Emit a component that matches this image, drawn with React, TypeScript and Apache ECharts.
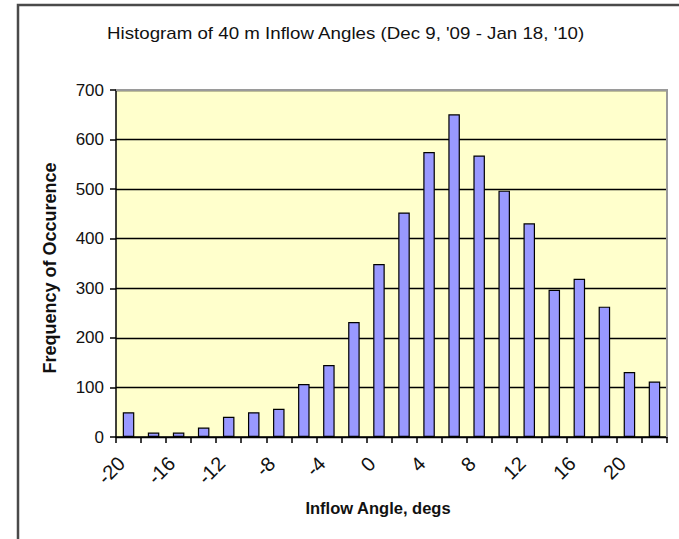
import React, { useEffect, useRef } from "react";
import * as echarts from "echarts";

const categories: string[] = [
  "-20", "-18", "-16", "-14", "-12", "-10", "-8", "-6", "-4", "-2", "0",
  "2", "4", "6", "8", "10", "12", "14", "16", "18", "20", "22",
];
const frequencies: number[] = [
  50, 9, 9, 19, 41, 50, 57, 107, 145, 232, 349,
  453, 575, 651, 568, 497, 431, 297, 319, 263, 131, 112,
];
const yTicks = { min: 0, max: 700, interval: 100 };

const title = "Histogram of 40 m Inflow Angles (Dec 9, '09 - Jan 18, '10)";
const xTitle = "Inflow Angle, degs";
const yTitle = "Frequency of Occurence";

export default function App() {
  const ref = useRef<HTMLDivElement>(null);
  useEffect(() => {
    if (!ref.current) return;
    const chart = echarts.init(ref.current, null, { renderer: "svg" });
    const font = "'Liberation Sans', Arial, sans-serif";
    chart.setOption({
      animation: false,
      backgroundColor: "#ffffff",
      textStyle: { fontFamily: font },
      graphic: [
        {
          type: "polyline",
          shape: { points: [[18, 560], [18, 5], [700, 5]] },
          style: { fill: "none", stroke: "#4a4a4a", lineWidth: 2.5 },
          z: 0,
        },
        {
          type: "text",
          x: 107,
          y: 33,
          scaleX: 1.17,
          style: {
            text: title,
            fontSize: 16,
            fill: "#111",
            fontFamily: font,
            align: "left",
            verticalAlign: "middle",
          },
        },
        {
          type: "text",
          x: 50,
          y: 268,
          rotation: Math.PI / 2,
          style: {
            text: yTitle,
            fontSize: 18,
            fontWeight: "bold",
            fill: "#111",
            fontFamily: font,
            align: "center",
            verticalAlign: "middle",
          },
        },
        {
          type: "text",
          x: 378,
          y: 508,
          style: {
            text: xTitle,
            fontSize: 16.5,
            fontWeight: "bold",
            fill: "#111",
            fontFamily: font,
            align: "center",
            verticalAlign: "middle",
          },
        },
        {
          type: "polyline",
          shape: { points: [[116, 90], [667, 90], [667, 437]] },
          style: { stroke: "#9a9a9a", lineWidth: 2, fill: "none" },
          z: 10,
        },
      ],
      grid: {
        left: 116,
        right: 12,
        top: 90,
        bottom: 102,
        show: true,
        backgroundColor: "#FFFFCC",
        borderWidth: 0,
      },
      xAxis: {
        type: "category",
        data: categories,
        boundaryGap: true,
        axisLine: { show: true, lineStyle: { color: "#000", width: 1.5 } },
        axisTick: { show: true, interval: 0, length: 6, lineStyle: { color: "#000", width: 1.5 } },
        axisLabel: {
          interval: 1,
          rotate: 45,
          fontSize: 20,
          color: "#111",
          margin: 16,
          padding: [0, 10, 0, 0],
          fontFamily: font,
        },
        splitLine: { show: false },
      },
      yAxis: {
        type: "value",
        min: yTicks.min,
        max: yTicks.max,
        interval: yTicks.interval,
        axisLine: { show: true, lineStyle: { color: "#000", width: 1.5 } },
        axisTick: { show: true, length: 6, lineStyle: { color: "#000", width: 1.5 } },
        axisLabel: { fontSize: 17, color: "#111", margin: 12, fontFamily: font },
        splitLine: { show: true, lineStyle: { color: "#000", width: 1.3 } },
      },
      series: [
        {
          type: "bar",
          data: frequencies,
          barWidth: "46%",
          itemStyle: { color: "#9999FF", borderColor: "#000", borderWidth: 1.2 },
        },
      ],
    });
    return () => chart.dispose();
  }, []);
  return <div ref={ref} style={{ width: 679, height: 539, position: "absolute", left: 0, top: 0 }} />;
}
